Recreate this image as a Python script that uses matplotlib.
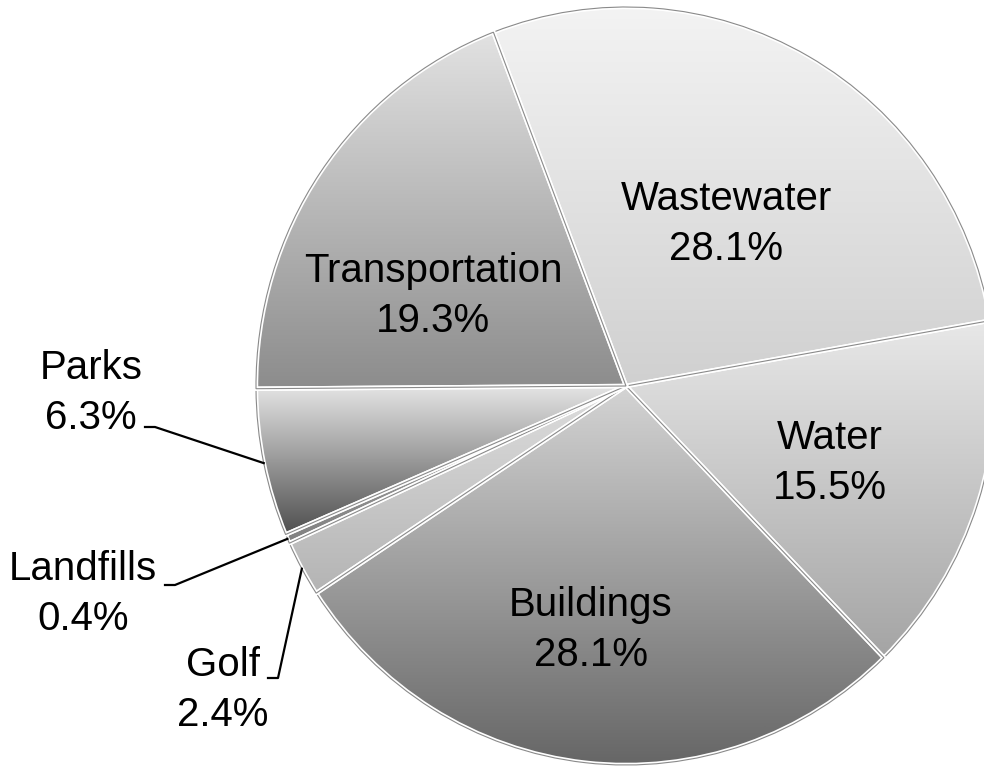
import numpy as np
import matplotlib
matplotlib.use('Agg')
import matplotlib.pyplot as plt
from matplotlib.colors import LinearSegmentedColormap
import matplotlib.patheffects as pe

plt.rcParams['font.family'] = ['Liberation Sans', 'DejaVu Sans']

categories = ['Wastewater', 'Water', 'Buildings', 'Golf', 'Landfills', 'Parks', 'Transportation']
shares = [28.1, 15.5, 28.1, 2.4, 0.4, 6.3, 19.3]

# per-slice vertical gradient (top colour, bottom colour)
shade_top = ['#f3f3f3', '#e8e8e8', '#d4d4d4', '#dedede', '#b0b0b0', '#e4e4e4', '#e2e2e2']
shade_bottom = ['#d0d0d0', '#a4a4a4', '#666666', '#b4b4b4', '#808080', '#4e4e4e', '#8c8c8c']

# label centres, pixels from top-left of the image
label_px = [(726, 224), (830, 463), (591, 630), (223, 690), (83, 594), (91, 393), (433, 296)]
# start of leader lines for the outside labels
leader_px = {'Golf': (268, 678), 'Landfills': (165, 585), 'Parks': (145, 427)}

W, H = 984, 766
CX, CY, RX, RY = 626, 386, 370, 379   # pie centre / radii in pixels


def px_to_data(px, py):
    return (px - CX) / RX, (CY - py) / RY


fig = plt.figure(figsize=(W / 100, H / 100), dpi=100)
ax = fig.add_axes([(CX - RX) / W, (H - CY - RY) / H, 2 * RX / W, 2 * RY / H])

wedges, _ = ax.pie(shares, startangle=111, counterclock=False, radius=1.0,
                   wedgeprops=dict(facecolor='none', edgecolor='#8a8a8a', linewidth=0.8))

grad = np.linspace(0, 1, 256).reshape(-1, 1)
for w, top, bot in zip(wedges, shade_top, shade_bottom):
    ext = w.get_path().get_extents()
    cmap = LinearSegmentedColormap.from_list('g', [top, bot])
    im = ax.imshow(grad, cmap=cmap, extent=[ext.x0, ext.x1, ext.y0, ext.y1],
                   origin='upper', aspect='auto', interpolation='bilinear', zorder=0)
    im.set_clip_path(w)
    w.set_zorder(2)
    w.set_path_effects([pe.Stroke(linewidth=3.2, foreground='white'), pe.Normal()])

ax.set_xlim(-1, 1)
ax.set_ylim(-1, 1)
ax.set_aspect('auto')
ax.axis('off')

for name, val, (lx, ly) in zip(categories, shares, label_px):
    fig.text(lx / W, 1 - ly / H, f'{name}\n{val:.1f}%', ha='center', va='center',
             fontsize=29, color='black', linespacing=1.4)

for w, name in zip(wedges, categories):
    if name not in leader_px:
        continue
    sx, sy = leader_px[name]
    mid = np.deg2rad((w.theta1 + w.theta2) / 2)
    x0, y0 = px_to_data(sx, sy)
    x1, y1 = px_to_data(sx + 10, sy)
    ax.plot([x0, x1, np.cos(mid)], [y0, y1, np.sin(mid)], color='black', lw=1.6,
            clip_on=False, zorder=3)

fig.savefig('out.png', dpi=100)
